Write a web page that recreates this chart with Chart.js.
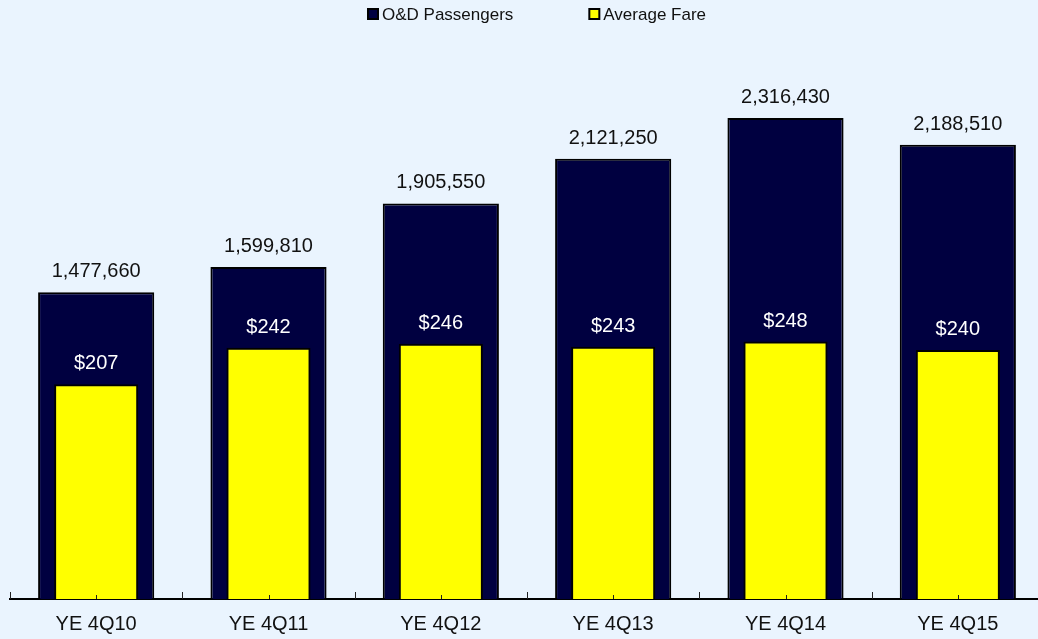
<!DOCTYPE html>
<html>
<head>
<meta charset="utf-8">
<script src="https://cdn.jsdelivr.net/npm/chart.js@4.4.0/dist/chart.umd.min.js"></script>
<style>
  html, body { margin: 0; padding: 0; background: #EAF4FE; overflow: hidden; }
  #wrap { width: 1044px; height: 639px; }
</style>
</head>
<body>
<div id="wrap"><canvas id="fareChart" width="1044" height="639"></canvas></div>
<script>
// chart values
const categories = ['YE 4Q10', 'YE 4Q11', 'YE 4Q12', 'YE 4Q13', 'YE 4Q14', 'YE 4Q15'];
const passengers = [1477660, 1599810, 1905550, 2121250, 2316430, 2188510];
const averageFare = [207, 242, 246, 243, 248, 240];

const NAVY = '#000040';
const YELLOW = '#FFFF00';
const FONT = 'Arial, "Liberation Sans", sans-serif';

// value labels above each bar
const valueLabels = {
    id: 'valueLabels',
    afterDatasetsDraw(chart) {
        const ctx = chart.ctx;
        ctx.save();
        ctx.font = '20px ' + FONT;
        ctx.textAlign = 'center';
        ctx.textBaseline = 'alphabetic';
        chart.data.datasets.forEach((ds, i) => {
            const meta = chart.getDatasetMeta(i);
            meta.data.forEach((bar, j) => {
                const v = ds.data[j];
                const txt = ds.isFare ? '$' + v : v.toLocaleString('en-US');
                ctx.fillStyle = ds.isFare ? '#FFFFFF' : '#111111';
                ctx.fillText(txt, bar.x, bar.y - 15);
            });
        });
        ctx.restore();
    }
};

// small inward ticks on the category axis
const axisTicks = {
    id: 'axisTicks',
    afterDraw(chart) {
        const x = chart.scales.x;
        const y0 = chart.chartArea.bottom;
        const ctx = chart.ctx;
        ctx.save();
        ctx.strokeStyle = '#222';
        ctx.lineWidth = 1;
        for (let i = 0; i <= categories.length; i++) {
            const px = Math.round(x.getPixelForValue(i - 0.5)) + 0.5;
            ctx.beginPath();
            ctx.moveTo(px, y0);
            ctx.lineTo(px, y0 - 7);
            ctx.stroke();
        }
        for (let i = 0; i < categories.length; i++) {
            const px = Math.round(x.getPixelForValue(i)) + 0.5;
            ctx.beginPath();
            ctx.moveTo(px, y0);
            ctx.lineTo(px, y0 - 4);
            ctx.stroke();
        }
        ctx.restore();
    }
};

// legend drawn tight like the original (box right next to text)
const topLegend = {
    id: 'topLegend',
    afterDraw(chart) {
        const ctx = chart.ctx;
        const items = [chart.data.datasets[1], chart.data.datasets[0]];
        ctx.save();
        ctx.font = '17px ' + FONT;
        ctx.textBaseline = 'middle';
        let xPos = 367;
        const yMid = 14;
        items.forEach((ds) => {
            ctx.fillStyle = ds.backgroundColor;
            ctx.fillRect(xPos + 1, yMid - 5, 10, 10);
            ctx.strokeStyle = '#000';
            ctx.lineWidth = 2;
            ctx.strokeRect(xPos + 1, yMid - 5, 10, 10);
            ctx.fillStyle = '#111';
            ctx.textAlign = 'left';
            ctx.fillText(ds.label, xPos + 15, yMid + 1);
            xPos += 15 + ctx.measureText(ds.label).width + 75;
        });
        ctx.restore();
    }
};

new Chart(document.getElementById('fareChart').getContext('2d'), {
    type: 'bar',
    data: {
        labels: categories,
        datasets: [
            {
                label: 'Average Fare',
                isFare: true,
                data: averageFare,
                yAxisID: 'yFare',
                backgroundColor: YELLOW,
                borderColor: '#000',
                borderWidth: 2,
                barPercentage: 0.488,
                categoryPercentage: 1,
                grouped: false,
                order: 0
            },
            {
                label: 'O&D Passengers',
                data: passengers,
                yAxisID: 'yPax',
                backgroundColor: NAVY,
                borderColor: '#000',
                borderWidth: 2,
                barPercentage: 0.674,
                categoryPercentage: 1,
                grouped: false,
                order: 1
            }
        ]
    },
    options: {
        responsive: false,
        animation: false,
        layout: { padding: { top: 80, left: 10, right: 0, bottom: -10 } },
        plugins: {
            legend: { display: false },
            tooltip: { enabled: false }
        },
        scales: {
            x: {
                grid: { display: false, drawTicks: false },
                border: { display: true, color: '#000', width: 2 },
                ticks: {
                    padding: 15,
                    color: '#111',
                    font: { family: FONT, size: 20, lineHeight: 1 }
                }
            },
            yPax: { display: false, min: 0, max: 2500000 },
            yFare: { display: false, min: 0, max: 500 }
        }
    },
    plugins: [valueLabels, axisTicks, topLegend]
});
</script>
</body>
</html>
